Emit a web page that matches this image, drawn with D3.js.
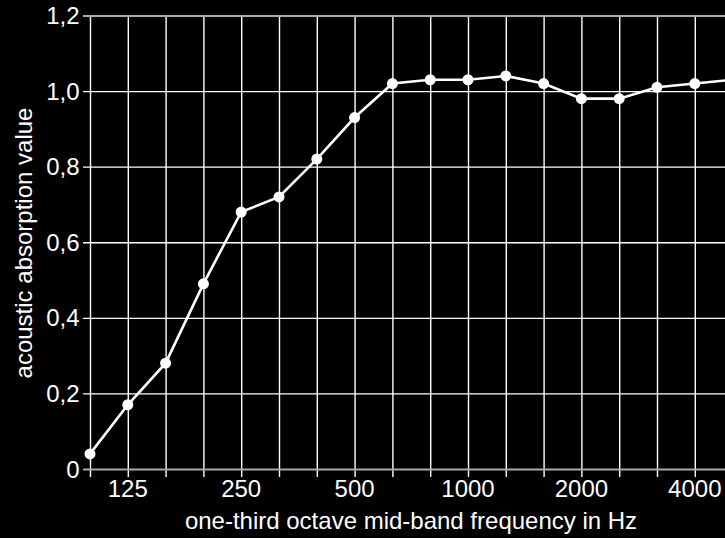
<!DOCTYPE html>
<html>
<head>
<meta charset="utf-8">
<script src="https://cdn.jsdelivr.net/npm/d3@7/dist/d3.min.js"></script>
<style>
  html, body { margin: 0; padding: 0; background: #000; overflow: hidden; }
  svg { display: block; font-family: "Liberation Sans", Arial, Helvetica, sans-serif; }
</style>
</head>
<body>
<div id="chart"></div>
<script>
// one-third octave bands
var bands = [100, 125, 160, 200, 250, 315, 400, 500, 630, 800, 1000, 1250, 1600, 2000, 2500, 3150, 4000, 5000];
var absorption = [0.04, 0.17, 0.28, 0.49, 0.68, 0.72, 0.82, 0.93, 1.02, 1.03, 1.03, 1.04, 1.02, 0.98, 0.98, 1.01, 1.02, 1.03];
var xLabels = [125, 250, 500, 1000, 2000, 4000];
var yTicks = [0, 0.2, 0.4, 0.6, 0.8, 1.0, 1.2];

var W = 725, H = 538;
var plotLeft = 90, plotTop = 15.5, plotBottom = 469;
var step = 37.8;

var svg = d3.select("#chart").append("svg")
    .attr("width", W)
    .attr("height", H);

svg.append("rect").attr("width", W).attr("height", H).attr("fill", "#000");

var x = d3.scalePoint()
    .domain(bands)
    .range([plotLeft, plotLeft + step * (bands.length - 1)]);

var y = d3.scaleLinear()
    .domain([0, 1.2])
    .range([plotBottom, plotTop]);

// vertical grid + ticks below
svg.append("g")
    .attr("transform", "translate(0," + plotBottom + ")")
    .call(d3.axisBottom(x)
        .tickSizeOuter(0)
        .tickFormat(""))
    .call(function (g) {
        g.select(".domain").remove();
        g.selectAll("line").attr("y2", -(plotBottom - plotTop)).attr("y1", 8)
            .attr("stroke", "#fff").attr("stroke-width", 1.4);
    });

// horizontal grid + ticks left
svg.append("g")
    .attr("transform", "translate(" + plotLeft + ",0)")
    .call(d3.axisLeft(y)
        .tickValues(yTicks)
        .tickSizeOuter(0)
        .tickFormat(""))
    .call(function (g) {
        g.select(".domain").remove();
        g.selectAll("line").attr("x1", -7).attr("x2", W)
            .attr("stroke", function (d) { return (d === 0 || d === 1.2) ? "#aaa" : "#fff"; })
            .attr("stroke-width", function (d) { return (d === 0 || d === 1.2) ? 1.8 : 1.4; });
    });

// y tick labels
svg.append("g").selectAll("text")
    .data(yTicks)
    .enter().append("text")
    .attr("x", 79.5)
    .attr("y", function (d) { return y(d); })
    .attr("dy", "0.36em")
    .attr("text-anchor", "end")
    .attr("fill", "#fff")
    .attr("font-size", 24)
    .text(function (d) { return d === 0 ? "0" : d3.format(".1f")(d).replace(".", ","); });

// x tick labels
svg.append("g").selectAll("text")
    .data(xLabels)
    .enter().append("text")
    .attr("x", function (d) { return x(d); })
    .attr("y", 497)
    .attr("text-anchor", "middle")
    .attr("fill", "#fff")
    .attr("font-size", 24)
    .text(function (d) { return d; });

// axis titles
svg.append("text")
    .attr("x", 411)
    .attr("y", 529)
    .attr("text-anchor", "middle")
    .attr("fill", "#fff")
    .attr("font-size", 24)
    .text("one-third octave mid-band frequency in Hz");

svg.append("text")
    .attr("transform", "translate(32,243) rotate(-90)")
    .attr("text-anchor", "middle")
    .attr("fill", "#fff")
    .attr("font-size", 24)
    .text("acoustic absorption value");

// data line
var line = d3.line()
    .x(function (d, i) { return x(bands[i]); })
    .y(function (d) { return y(d); });

svg.append("path")
    .datum(absorption)
    .attr("d", line)
    .attr("fill", "none")
    .attr("stroke", "#fff")
    .attr("stroke-width", 2.6);

svg.append("g").selectAll("circle")
    .data(absorption)
    .enter().append("circle")
    .attr("cx", function (d, i) { return x(bands[i]); })
    .attr("cy", function (d) { return y(d); })
    .attr("r", 5.5)
    .attr("fill", "#fff");
</script>
</body>
</html>
